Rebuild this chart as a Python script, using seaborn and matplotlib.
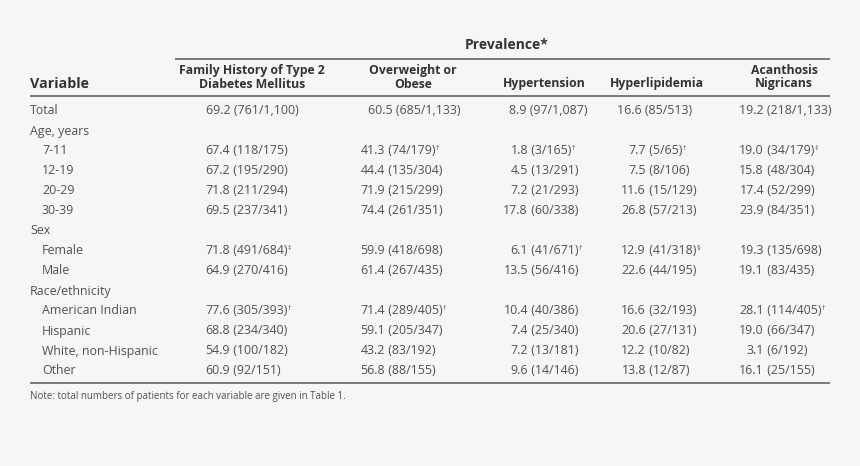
import matplotlib
matplotlib.use("Agg")
import matplotlib.pyplot as plt
import seaborn as sns

sns.set_theme(style="white")
plt.rcParams['font.family'] = ['Open Sans', 'DejaVu Sans']

# ---------------- data ----------------
row_labels = ["Total", "Age, years", "7-11", "12-19", "20-29", "30-39",
              "Sex", "Female", "Male", "Race/ethnicity", "American Indian",
              "Hispanic", "White, non-Hispanic", "Other"]
row_indent = [0, 0, 1, 1, 1, 1, 0, 1, 1, 0, 1, 1, 1, 1]

column_headers = ["Family History of Type 2\nDiabetes Mellitus",
                  "Overweight or\nObese", "Hypertension", "Hyperlipidemia",
                  "Acanthosis\nNigricans"]

family_history = ["69.2 (761/1,100)", "", "67.4 (118/175)", "67.2 (195/290)",
                  "71.8 (211/294)", "69.5 (237/341)", "", "71.8 (491/684)‡",
                  "64.9 (270/416)", "", "77.6 (305/393)†", "68.8 (234/340)",
                  "54.9 (100/182)", "60.9 (92/151)"]
overweight = ["60.5 (685/1,133)", "", "41.3 (74/179)†", "44.4 (135/304)",
              "71.9 (215/299)", "74.4 (261/351)", "", "59.9 (418/698)",
              "61.4 (267/435)", "", "71.4 (289/405)†", "59.1 (205/347)",
              "43.2 (83/192)", "56.8 (88/155)"]
hypertension = ["8.9 (97/1,087)", "", "1.8 (3/165)†", "4.5 (13/291)",
                "7.2 (21/293)", "17.8 (60/338)", "", "6.1 (41/671)†",
                "13.5 (56/416)", "", "10.4 (40/386)", "7.4 (25/340)",
                "7.2 (13/181)", "9.6 (14/146)"]
hyperlipidemia = ["16.6 (85/513)", "", "7.7 (5/65)†", "7.5 (8/106)",
                  "11.6 (15/129)", "26.8 (57/213)", "", "12.9 (41/318)§",
                  "22.6 (44/195)", "", "16.6 (32/193)", "20.6 (27/131)",
                  "12.2 (10/82)", "13.8 (12/87)"]
acanthosis = ["19.2 (218/1,133)", "", "19.0 (34/179)‡", "15.8 (48/304)",
              "17.4 (52/299)", "23.9 (84/351)", "", "19.3 (135/698)",
              "19.1 (83/435)", "", "28.1 (114/405)†", "19.0 (66/347)",
              "3.1 (6/192)", "16.1 (25/155)"]

columns = [family_history, overweight, hypertension, hyperlipidemia, acanthosis]

# ---------------- layout ----------------
W, H = 860, 466
BG = "#f6f6f6"
TXT = "#515151"
HDR = "#333333"
LINE = "#7a7a7a"

col_center = [252, 413, 544, 657, 784]      # header centres
total_center = [252, 414, 548, 655, 785]    # centres of the Total row
col_dec = [230, 385, 528, 646, 764]         # right edge of the leading number
row_y0, row_step = 114.5, 20
x_label, x_indent = 30, 42
fs = 8.9

fig = plt.figure(figsize=(W / 100, H / 100), dpi=100, facecolor=BG)
ax = fig.add_axes([0, 0, 1, 1])
ax.set_facecolor(BG)
ax.set_xlim(0, W)
ax.set_ylim(H, 0)
ax.axis("off")

# rules
ax.hlines(59, 175, 830, color=LINE, lw=1.4)
ax.hlines(95.5, 30, 830, color=LINE, lw=1.4)
ax.hlines(383, 30, 830, color=LINE, lw=1.4)

# headers
ax.text(507, 49, "Prevalence*", ha="center", va="baseline",
        fontsize=10, fontweight="bold", color=HDR)
ax.text(30, 88, "Variable", ha="left", va="baseline",
        fontsize=10.3, fontweight="bold", color=HDR)
for cx, hdr in zip(col_center, column_headers):
    lines = hdr.split("\n")
    for k, ln in enumerate(reversed(lines)):
        ax.text(cx, 87.5 - k * 13.5, ln, ha="center", va="baseline",
                fontsize=8.8, fontweight="bold", color=HDR)

# body
markers = "†‡§"
for i, (lab, ind) in enumerate(zip(row_labels, row_indent)):
    y = row_y0 + i * row_step
    ax.text(x_indent if ind else x_label, y, lab, ha="left", va="baseline",
            fontsize=fs, color=TXT)
    for j, col in enumerate(columns):
        cell = col[i]
        if not cell:
            continue
        mark = ""
        if cell[-1] in markers:
            mark = cell[-1]
            cell = cell[:-1]
        num, rest = cell.split(" ", 1)
        if i == 0:
            t = ax.text(total_center[j], y, cell, ha="center", va="baseline",
                        fontsize=fs, color=TXT)
        else:
            ax.text(col_dec[j], y, num, ha="right", va="baseline",
                    fontsize=fs, color=TXT)
            t = ax.text(col_dec[j], y, " " + rest, ha="left", va="baseline",
                        fontsize=fs, color=TXT)
        if mark:
            ax.annotate(mark, xy=(1.0, 0.95), xycoords=t, ha="left", va="top",
                        fontsize=5, color=TXT)

ax.text(30, 399, "Note: total numbers of patients for each variable are given in Table 1.",
        ha="left", va="baseline", fontsize=7, color=TXT)

fig.savefig("out.png", dpi=100, facecolor=BG)
